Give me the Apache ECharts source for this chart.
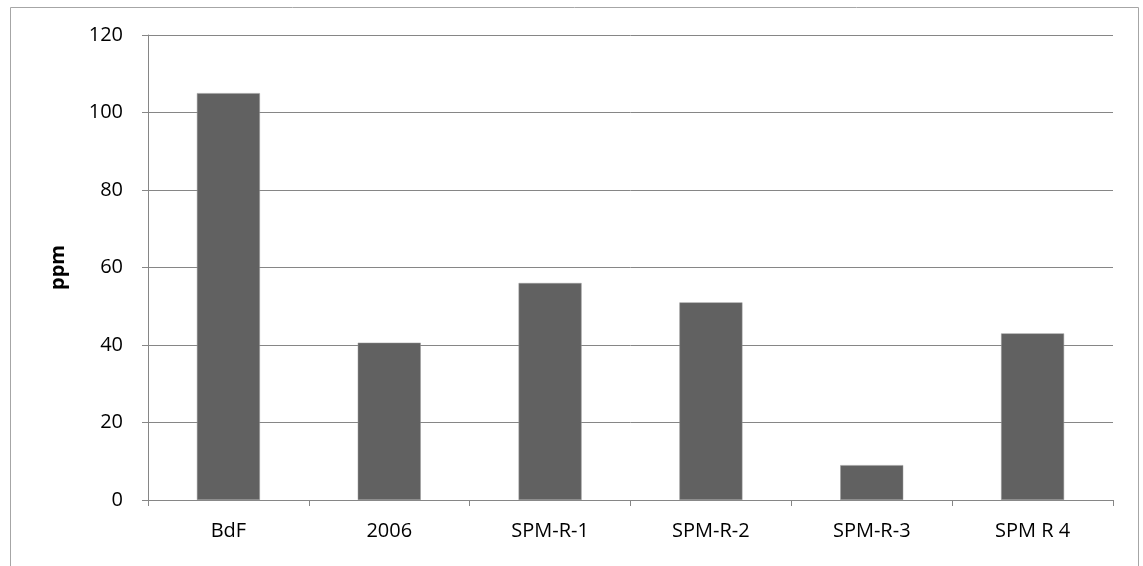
<!DOCTYPE html>
<html><head><meta charset="utf-8">
<script src="https://cdn.jsdelivr.net/npm/echarts@6/dist/echarts.min.js"></script>
<style>html,body{margin:0;padding:0;background:#fff}#c{width:1143px;height:566px}</style>
</head><body><div id="c"></div>
<script>
const categories = ['BdF', '2006', 'SPM-R-1', 'SPM-R-2', 'SPM-R-3', 'SPM R 4'];
const values = [105, 40.6, 56, 51, 9, 43];
const yTicks = [0, 20, 40, 60, 80, 100, 120];
const yTitle = 'ppm';

const chart = echarts.init(document.getElementById('c'));
const font = '"Open Sans", "Liberation Sans", sans-serif';
chart.setOption({
  animation: false,
  backgroundColor: '#fff',
  graphic: [{
    type: 'rect', left: 8, top: 5,
    shape: { width: 1128, height: 559 },
    style: { fill: 'none', stroke: '#a6a6a6', lineWidth: 1 }
  }],
  grid: { left: 148, right: 30, top: 35, bottom: 66 },
  xAxis: {
    type: 'category', data: categories,
    axisLine: { lineStyle: { color: '#868686', width: 1 } },
    axisTick: { show: true, length: 6, alignWithLabel: false, lineStyle: { color: '#868686' } },
    axisLabel: { color: '#000', fontSize: 20, fontFamily: font, margin: 21 }
  },
  yAxis: {
    type: 'value', min: yTicks[0], max: yTicks[yTicks.length - 1], interval: 20,
    name: yTitle, nameLocation: 'middle', nameGap: 80, nameRotate: 90,
    nameTextStyle: { color: '#000', fontSize: 20, fontWeight: 'bold', fontFamily: font },
    axisLine: { show: true, lineStyle: { color: '#868686' } },
    axisTick: { show: true, length: 6, lineStyle: { color: '#868686' } },
    splitLine: { lineStyle: { color: '#868686', width: 1 } },
    axisLabel: { color: '#000', fontSize: 20, fontFamily: font, margin: 25 }
  },
  series: [{
    type: 'bar', data: values, barWidth: 63,
    itemStyle: { color: '#616161', borderColor: '#9a9a9a', borderWidth: 0.5 }
  }]
});
</script></body></html>
